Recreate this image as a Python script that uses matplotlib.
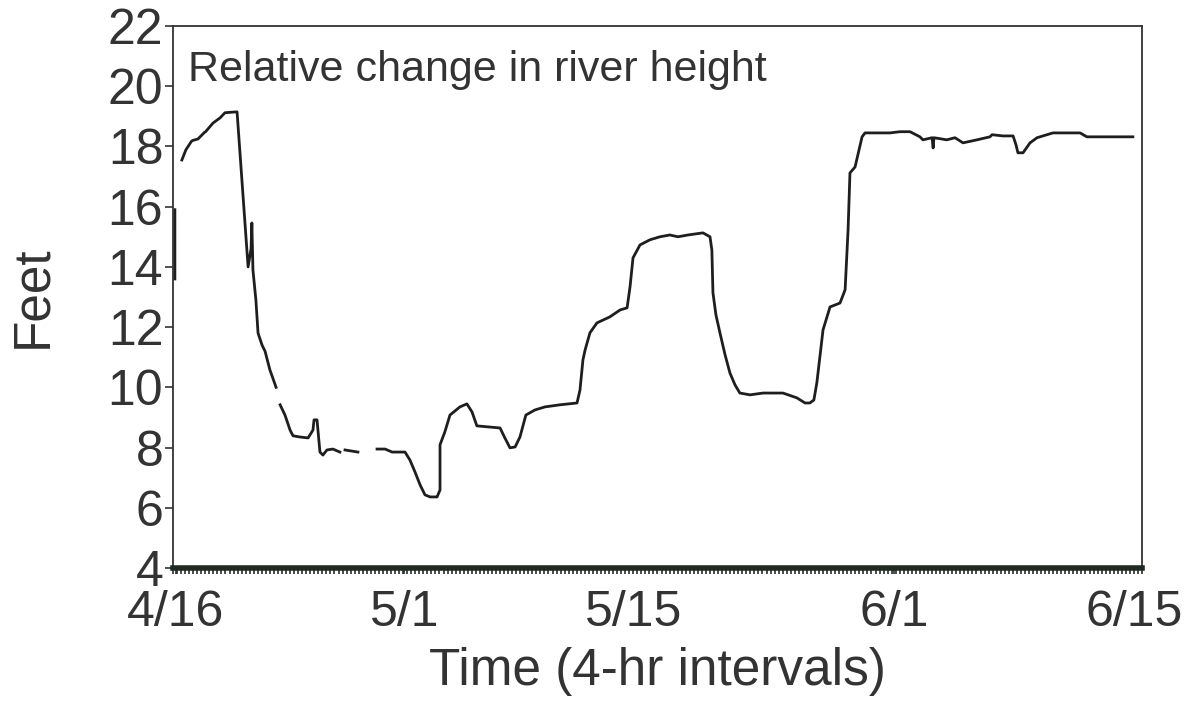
import numpy as np
import matplotlib.pyplot as plt

plt.rcParams['font.family'] = ['Liberation Sans', 'DejaVu Sans']

# x = 4-hr interval index from 4/16, y = relative river height (ft); nan = gap in the trace
interval = [0.7, 0.7, np.nan,
            3.3, 4.8, 6.7, np.nan, 7.4, 9.3, 11.5, np.nan, 12.2, 14.9, 17.5, 19.3, 23.8,
            27.9, 29.0, 29.3, 29.7, 30.8, 31.6, 33.1, 34.2, 36.0, 38.3, np.nan,
            39.8, 41.6, 43.5, 44.6, 47.2, 50.2, 52.0, 52.4, 53.5, 54.2, 54.6, 55.7, 57.2, 59.4, 62.0, np.nan,
            63.9, 68.7, np.nan,
            75.8, 78.8, 81.4, 86.2, 88.0, 89.9, 91.8, 93.6, 95.5, 98.1, 99.2, 99.2, 101.0, 102.9,
            106.6, 109.2, 111.1, 112.9, 117.8, 121.5, 123.3, 125.2, 127.1, 128.9, 131.1, 134.5,
            138.2, 143.8, 150.1, 151.2, 152.3, 153.1, 154.9, 157.5, 162.3, 166.1, 168.7, 169.8,
            170.9, 173.5, 177.2, 180.9, 184.6, 187.6, 191.3, 196.9, 199.5, 200.2, 200.6, 201.7,
            203.2, 205.1, 206.9, 208.8, 210.6, 214.4, 219.2, 226.6, 231.8, 234.8, 236.6, 238.1,
            239.2, 241.5, 244.1, 247.8, 249.7, 250.8, 251.5, 253.4, 256.0, 257.1, 266.4, 270.1,
            273.8, 277.5, 278.6, 282.0, 282.4, 282.7, 287.5, 290.5, 293.5, 298.7, 303.5, 304.3,
            308.3, 312.1, 313.2, 313.9, 315.8, 318.4, 321.0, 326.9, 337.0, 339.5, 356.6]
feet = [15.9, 13.6, np.nan,
        17.55, 17.89, 18.15, np.nan, 18.2, 18.25, 18.45, np.nan, 18.5, 18.78, 18.95, 19.12, 19.15,
        14.0, 14.6, 15.46, 13.9, 12.9, 11.8, 11.4, 11.2, 10.58, 10.0, np.nan,
        9.42, 9.08, 8.58, 8.39, 8.35, 8.32, 8.58, 8.92, 8.92, 8.25, 7.85, 7.75, 7.92, 7.95, 7.85, np.nan,
        7.92, 7.85, np.nan,
        7.95, 7.95, 7.85, 7.85, 7.59, 7.19, 6.76, 6.43, 6.36, 6.36, 6.59, 8.09, 8.52, 9.08,
        9.35, 9.45, 9.18, 8.72, 8.68, 8.65, 8.32, 7.99, 8.02, 8.35, 9.08, 9.25,
        9.35, 9.42, 9.48, 9.91, 10.91, 11.24, 11.81, 12.14, 12.34, 12.57, 12.64, 13.34,
        14.30, 14.73, 14.90, 15.0, 15.06, 15.0, 15.06, 15.13, 15.0, 14.56, 13.14, 12.41,
        11.81, 11.08, 10.48, 10.08, 9.81, 9.75, 9.81, 9.81, 9.65, 9.48, 9.48, 9.58,
        10.15, 11.91, 12.67, 12.80, 13.24, 15.23, 17.12, 17.32, 18.32, 18.45, 18.45, 18.49,
        18.49, 18.32, 18.22, 18.29, 17.95, 18.29, 18.22, 18.29, 18.12, 18.22, 18.32, 18.39,
        18.35, 18.35, 18.05, 17.79, 17.79, 18.12, 18.29, 18.45, 18.45, 18.32, 18.32]

tick_pos = [1, 86, 171, 268, 357]
tick_labels = ['4/16', '5/1', '5/15', '6/1', '6/15']

fig = plt.figure(figsize=(12.03, 7.09), dpi=100)
ax = fig.add_axes([0.1438, 0.1989, 0.8055, 0.7644])

ax.plot(interval, feet, color='#1e1e1e', linewidth=2.0)

ax.set_xlim(0, 360)
ax.set_ylim(4, 22)
ax.set_yticks(np.arange(4, 23, 2))
ax.set_xticks(tick_pos)
ax.set_xticklabels(tick_labels)
ax.set_xticks(np.arange(0, 361, 1.5), minor=True)

ax.tick_params(axis='y', direction='out', length=6, width=1.2, labelsize=36, pad=1, colors='#333333')
ax.tick_params(axis='x', which='both', direction='out', length=4, width=1.2, labelsize=36, pad=12,
               colors='#26302a')
ax.tick_params(axis='x', which='major', labelcolor='#333333')

for side in ['left', 'top', 'right']:
    ax.spines[side].set_linewidth(1.3)
    ax.spines[side].set_color('#333333')
ax.spines['bottom'].set_linewidth(4)
ax.spines['bottom'].set_color('#1f2a22')

ax.set_xlabel('Time (4-hr intervals)', fontsize=37, color='#333333', labelpad=8)
ax.set_ylabel('Feet', fontsize=37, color='#333333', labelpad=36)
ax.text(0.015, 0.918, 'Relative change in river height', transform=ax.transAxes,
        fontsize=31, color='#333333', va='center', ha='left')

plt.savefig('out.png', dpi=100)
